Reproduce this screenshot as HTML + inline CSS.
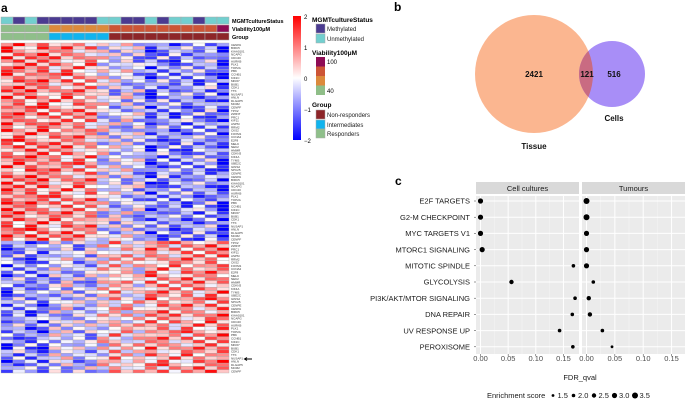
<!DOCTYPE html>
<html><head><meta charset="utf-8"><style>
body{margin:0;background:#fff;}
svg{display:block;font-family:"Liberation Sans",Arial,sans-serif;}
</style></head><body>
<svg id="fig" width="685" height="403" viewBox="0 0 685 403" xmlns="http://www.w3.org/2000/svg">
<g id="pa">
<text x="1" y="12" font-size="12" font-weight="bold">a</text>
</g>
<g id="pb">
<text x="394" y="11" font-size="12" font-weight="bold">b</text>
<defs><clipPath id="cl"><circle cx="612" cy="74" r="33"/></clipPath></defs>
<circle cx="534" cy="74" r="59" fill="#fbb690"/>
<circle cx="612" cy="74" r="33" fill="#a88ef7"/>
<circle cx="534" cy="74" r="59" fill="#c96b82" clip-path="url(#cl)"/>
<g font-size="8" font-weight="bold" text-anchor="middle" fill="#111">
<text x="534" y="77">2421</text>
<text x="587" y="77">121</text>
<text x="614" y="77">516</text>
<text x="614" y="121">Cells</text>
<text x="534" y="149">Tissue</text>
</g>
</g>
<g id="pc">
<text x="395" y="185" font-size="12" font-weight="bold">c</text>
</g>
</svg>
<script>
// ---------- Heatmap data ----------
const mgmtStatus = ["U","M","U","M","M","M","M","M","U","U","M","M","U","M","U","U","M","U","U"];
const viabilityCat = [1,1,1,1,2,2,2,2,2,3,3,3,3,3,3,3,3,3,4];
const groupCat = ["R","R","R","R","I","I","I","I","I","N","N","N","N","N","N","N","N","N","N"];
const topColMeans = [1.2,1.0,1.1,1.1,0.8,0.9,0.8,0.8,-0.1,-0.3,-0.2,-0.4,-1.2,-0.8,-0.9,-0.8,-0.8,-0.7,-1.5];
const bottomColMeans = [-1.0,-0.7,-0.9,-1.0,-0.3,-0.2,-0.5,-0.4,0.1,0.6,0.3,0.2,0.9,0.8,0.7,0.8,0.8,0.9,1.0];
const topRows = 60;
const totalRows = 100;
const jitter = "3719052846172093846510927364859102736485910273648501928374651029";
const geneNames = ["CENPA","BIRC5","KIAA0101","NCAPG","CDC20","AURKB","PLK1","TOP2A","PBK","CCNB1","KIF2C","MKI67","BUB1","CDK1","TTK","NUSAP1","ANLN","DLGAP5","MCM2","CENPF","TPX2","ZWINT","PRC1","KIF11","ASPM","RRM2","CKS2","FOXM1","CCNA2","E2F8","MELK","NEK2","HMMR","CDKN3","KIF4A","TYMS","UBE2C","GINS2","SPC25","CENPE"];
// ---------- Dot plot data ----------
const pathways = ["E2F TARGETS","G2-M CHECKPOINT","MYC TARGETS V1","MTORC1 SIGNALING","MITOTIC SPINDLE","GLYCOLYSIS","PI3K/AKT/MTOR SIGNALING","DNA REPAIR","UV RESPONSE UP","PEROXISOME"];
const cellsFdr = [0.0,0.0,0.0,0.003,0.168,0.056,0.171,0.166,0.143,0.167];
const cellsES = [3.0,3.0,3.0,3.0,2.0,2.5,2.0,2.0,2.0,2.0];
const tumourFdr = [0.0,0.0,0.0,0.0,0.0,0.012,0.004,0.006,0.028,0.045];
const tumourES = [3.5,3.5,3.0,3.0,3.0,2.0,2.5,2.5,2.0,1.5];
const xTicks = [0.00,0.05,0.10,0.15];
const esLegend = [1.5,2.0,2.5,3.0,3.5];

const NS="http://www.w3.org/2000/svg";
function mk(tag,attrs,parent){const e=document.createElementNS(NS,tag);for(const k in attrs)e.setAttribute(k,attrs[k]);if(parent)parent.appendChild(e);return e;}
function col(v){v=Math.max(-2,Math.min(2,v));let t=Math.abs(v)/2;const c=Math.round(255*(1-t));return v>=0?`rgb(255,${c},${c})`:`rgb(${c},${c},255)`;}

// ---------- Heatmap ----------
const pa=document.getElementById('pa');
const hx0=1,hy0=43,cw=12.0,hh=330,rh=hh/totalRows;
const mgCol={M:"#4b3b91",U:"#72cfcf"};
const viCol={1:"#8fbe88",2:"#dc8a3c",3:"#cd5536",4:"#8e0c55"};
const grCol={R:"#8fbf8a",I:"#10b4ee",N:"#8d2528"};
mgmtStatus.forEach((s,i)=>{
  const r=mk('rect',{x:hx0+i*cw,y:17,width:cw,height:7,fill:mgCol[s],stroke:"#aaa","stroke-width":0.5},pa);
  
  
});
viabilityCat.forEach((s,i)=>{
  const r=mk('rect',{x:hx0+i*cw,y:25,width:cw,height:7,fill:viCol[s],stroke:"#aaa","stroke-width":0.5},pa);
  
  
});
groupCat.forEach((s,i)=>{
  const r=mk('rect',{x:hx0+i*cw,y:33,width:cw,height:7,fill:grCol[s],stroke:"#aaa","stroke-width":0.5},pa);
  
  
});
const annLabels=[["MGMTcultureStatus",23],["Viability100μM",31],["Group",39]];
annLabels.forEach(a=>{
  const t=mk('text',{x:232,y:a[1],"font-size":5.5,"font-weight":"bold"},pa);t.textContent=a[0];
  
  
});
for(let r=0;r<totalRows;r++){
  const means=r<topRows?topColMeans:bottomColMeans;
  for(let c=0;c<mgmtStatus.length;c++){
    const j=(+jitter[(r*7+c*3)%jitter.length]-4.5)/4.5;
    const v=means[c]+j*1.0;
    const e=mk('rect',{x:hx0+c*cw,y:hy0+r*rh,width:cw,height:rh,fill:col(v),stroke:"#a9a9a9","stroke-width":0.35},pa);
    
    
  }
  const g=mk('text',{x:hx0+mgmtStatus.length*cw+2,y:hy0+(r+0.85)*rh,"font-size":3,fill:"#333"},pa);
  g.textContent=geneNames[r%geneNames.length];
  
  
}
const arr=mk('path',{d:"M252 359 L245 359 M247 357.5 L244.5 359 L247 360.5",stroke:"#000","stroke-width":1,fill:"none"},pa);


// colorbar
const defs=mk('defs',{},pa);
const lg=mk('linearGradient',{id:"cb",x1:0,y1:0,x2:0,y2:1},defs);
mk('stop',{offset:"0",  "stop-color":"#ff0000"},lg);mk('stop',{offset:"0.5","stop-color":"#ffffff"},lg);mk('stop',{offset:"1","stop-color":"#0000ff"},lg);
const cb=mk('rect',{x:293,y:16,width:8,height:124,fill:"url(#cb)"},pa);


[2,1,0,-1,-2].forEach((v,i)=>{
  const t=mk('text',{x:304,y:19+i*31,"font-size":6},pa);t.textContent=v<0?"−"+(-v):String(v);
  
  
});
const legItems=[
 ["t","MGMTcultureStatus",22],["s","Methylated",28,"#4b3b91"],["s","Unmethylated",38,"#72cfcf"],
 ["t","Viability100μM",55],["v"],["t","Group",107],["s","Non-responders",114,"#8d2528"],["s","Intermediates",124,"#10b4ee"],["s","Responders",133,"#8fbf8a"]];
legItems.forEach(it=>{
  if(it[0]==="t"){const t=mk('text',{x:312,y:it[2],"font-size":6.5,"font-weight":"bold"},pa);t.textContent=it[1];
    
    }
  else if(it[0]==="s"){const r=mk('rect',{x:316,y:it[2]-4,width:9,height:9,fill:it[3],stroke:"#aaa","stroke-width":0.5},pa);
    
    
    const t=mk('text',{x:327,y:it[2]+3,"font-size":6,fill:"#222"},pa);t.textContent=it[1];
    
    }
  else{["#8e0c55","#cd5536","#dc8a3c","#8fbe88"].forEach((c,i)=>{const r=mk('rect',{x:316,y:57+i*9.5,width:9,height:9.5,fill:c},pa);
      
      });
    const a=mk('text',{x:327,y:64,"font-size":6},pa);a.textContent="100";
    
    
    const b=mk('text',{x:327,y:93,"font-size":6},pa);b.textContent="40";
    
    }
});

// ---------- Dot plot ----------
const pc=document.getElementById('pc');
const panelTop=196,panelBot=354,rowY0=201,rowStep=16.2;
const facets=[{x0:476,x1:579,z:480.5,k:553,name:"Cell cultures",fdr:cellsFdr,es:cellsES},
              {x0:582,x1:685,z:586.5,k:567,name:"Tumours",fdr:tumourFdr,es:tumourES}];
function yRow(i){return rowY0+i*rowStep;}
function rES(v){return 0.2+0.8*v;}
facets.forEach(f=>{
  const bg=mk('rect',{x:f.x0,y:panelTop,width:f.x1-f.x0,height:panelBot-panelTop,fill:"#ebebeb"},pc);
  
  
  const st=mk('rect',{x:f.x0,y:182,width:f.x1-f.x0,height:12,fill:"#d9d9d9"},pc);
  
  
  const stt=mk('text',{x:(f.x0+f.x1)/2,y:191,"font-size":7.5,"text-anchor":"middle",fill:"#1a1a1a"},pc);stt.textContent=f.name;
  
  
  for(let i=0;i<xTicks.length-1;i++){const xm=f.z+(xTicks[i]+xTicks[i+1])/2*f.k;
    const l=mk('line',{x1:xm,x2:xm,y1:panelTop,y2:panelBot,stroke:"#f6f6f6","stroke-width":0.5},pc);
    
    }
  xTicks.forEach(t=>{const x=f.z+t*f.k;
    const l=mk('line',{x1:x,x2:x,y1:panelTop,y2:panelBot,stroke:"#fff","stroke-width":1},pc);
    
    
    const tk=mk('line',{x1:x,x2:x,y1:panelBot,y2:panelBot+2,stroke:"#333","stroke-width":0.5},pc);
    
    
    const tl=mk('text',{x:x,y:361,"font-size":7.5,"text-anchor":"middle",fill:"#4d4d4d"},pc);tl.textContent=t.toFixed(2);
    
    });
  pathways.forEach((p,i)=>{const l=mk('line',{x1:f.x0,x2:f.x1,y1:yRow(i),y2:yRow(i),stroke:"#fff","stroke-width":1},pc);
    
    });
  pathways.forEach((p,i)=>{
    const d=mk('circle',{cx:f.z+f.fdr[i]*f.k,cy:yRow(i),r:rES(f.es[i]),fill:"#000"},pc);
    
    
  });
});
pathways.forEach((p,i)=>{
  const t=mk('text',{x:470,y:yRow(i)+2.7,"font-size":7.5,"text-anchor":"end",fill:"#1a1a1a"},pc);t.textContent=p;
  
  
  const tk=mk('line',{x1:474,x2:476,y1:yRow(i),y2:yRow(i),stroke:"#333","stroke-width":0.5},pc);
  
  
});
const xt=mk('text',{x:580,y:380,"font-size":7.5,"text-anchor":"middle",fill:"#1a1a1a"},pc);xt.textContent="FDR_qval";


const lt=mk('text',{x:487,y:398,"font-size":7.5,fill:"#1a1a1a"},pc);lt.textContent="Enrichment score";


esLegend.forEach((v,i)=>{
  const x=553+i*20.5;
  const d=mk('circle',{cx:x,cy:395.5,r:rES(v),fill:"#000"},pc);
  
  
  const t=mk('text',{x:x+4.5,y:398,"font-size":7.5,fill:"#1a1a1a"},pc);t.textContent=v.toFixed(1);
  
  
});
</script>
</body></html>
